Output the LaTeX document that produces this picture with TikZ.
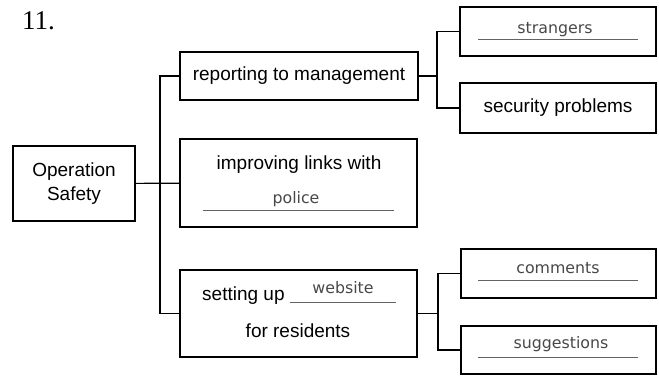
\documentclass[tikz,border=0pt]{standalone}
\usepackage{fontspec}
\setmainfont{Liberation Sans}
\newfontfamily\handfont{DejaVu Sans}
\newfontfamily\numfont{Liberation Serif}
\usepackage{tikz}
\definecolor{pencil}{RGB}{72,72,72}
\tikzstyle{box} = [draw, line width=1.2pt, align=center, font=\fontsize{19}{24}\selectfont, inner sep=0pt]
\tikzstyle{link} = [line width=1.2pt]
\tikzstyle{words} = [font=\fontsize{19}{24}\selectfont, anchor=base, inner sep=0pt]
\tikzstyle{answer} = [text=pencil, font=\handfont\fontsize{15.8}{18}\selectfont, anchor=base, inner sep=0pt]
\tikzstyle{blank} = [draw=pencil!85, line width=1pt]

\begin{document}
\begin{tikzpicture}[x=1pt,y=-1pt]
			\useasboundingbox (0,0) rectangle (659,376);
			\node[anchor=base west, inner sep=0pt, font=\numfont\fontsize{27}{30}\selectfont] (num) at (22,29) {11.};
			
			%boxes
			\node[box, minimum width=122, minimum height=75] (op) at (74,183.5) {Operation\\Safety};
			\node[box, minimum width=238, minimum height=48] (rep) at (299,76) {reporting to management};
			\node[box, minimum width=237, minimum height=88] (imp) at (298.5,183) {};
			\node[box, minimum width=237, minimum height=87] (set) at (298.5,313.5) {};
			\node[box, minimum width=196, minimum height=49] (str) at (558,31.5) {};
			\node[box, minimum width=196, minimum height=50] (sec) at (558,108) {security problems};
			\node[box, minimum width=195, minimum height=49] (com) at (558.5,273.5) {};
			\node[box, minimum width=195, minimum height=48] (sug) at (558.5,350) {};
			
			\node[words] (impA) at (299,169) {improving links with};
			\node[words, anchor=base west] (setA) at (202,300) {setting up};
			\node[words] (setB) at (298,337) {for residents};
			
			%answers
			\node[answer] (strangers) at (555,33) {strangers};
			\draw[blank] (478,39) -- (638,39);
			\node[answer] (police) at (296,203) {police};
			\draw[blank] (203,210) -- (394,210);
			\node[answer] (website) at (343,293) {website};
			\draw[blank] (290,302) -- (396,302);
			\node[answer] (comments) at (558,273) {comments};
			\draw[blank] (478,280) -- (638,280);
			\node[answer] (suggestions) at (561,348) {suggestions};
			\draw[blank] (478,357) -- (638,357);
			
			%links
			\coordinate (trunk) at (160,183);
			\coordinate (rfork) at (437,76);
			\coordinate (sfork) at (438,313.5);
			\draw[link] (op) -- (imp);
			\draw[link] (rep.west) -| (trunk) |- (set.west);
			\draw[link] (rep.east) -- (rfork);
			\draw[link] (str.west) -| (rfork) |- (sec.west);
			\draw[link] (set.east) -- (sfork);
			\draw[link] (com.west) -| (sfork) |- (sug.west);
			
		\end{tikzpicture}
\end{document}
